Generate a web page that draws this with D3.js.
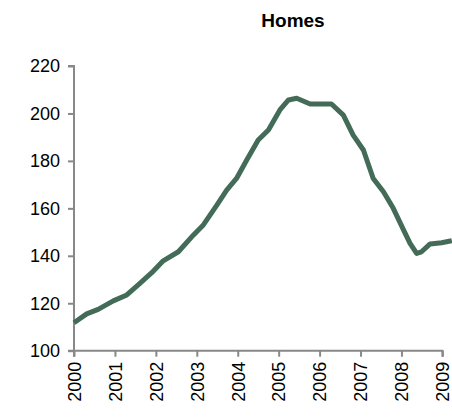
<!DOCTYPE html>
<html><head><meta charset="utf-8">
<script src="https://cdn.jsdelivr.net/npm/d3@7"></script>
<style>body{margin:0;background:#fff}svg{display:block}</style>
</head><body>
<script>
const years = [2000.0,2000.31,2000.59,2000.96,2001.29,2001.61,2001.9,2002.18,2002.55,2002.92,2003.16,2003.49,2003.73,2003.97,2004.22,2004.5,2004.75,2005.03,2005.24,2005.44,2005.77,2006.29,2006.58,2006.82,2007.07,2007.31,2007.56,2007.8,2008.05,2008.21,2008.37,2008.49,2008.7,2008.98,2009.23];
const values = [111.8,115.5,117.4,121,123.5,128.4,132.9,137.9,141.7,148.8,153,161.4,167.7,172.6,180.4,188.8,193,201.5,205.7,206.4,204,204,199.3,190.9,184.6,172.6,167,160,150.9,145.2,141,141.7,145,145.5,146.4];
const yTicks = [100,120,140,160,180,200,220];
const xTicks = [2000,2001,2002,2003,2004,2005,2006,2007,2008,2009];
const title = "Homes";

const W=452,H=419;
const svg=d3.select("body").append("svg").attr("width",W).attr("height",H);
const x=d3.scaleLinear().domain([2000,2009]).range([74,442.4]);
const y=d3.scaleLinear().domain([100,220]).range([350.7,66]);
const axisColor="#888";
const font="Arial, 'Liberation Sans', sans-serif";

svg.append("text").attr("x",293).attr("y",27).attr("text-anchor","middle")
  .attr("font-family",font).attr("font-weight","bold").attr("font-size",19).text(title);

const ya=svg.append("g").attr("transform","translate(74,0)")
  .call(d3.axisLeft(y).tickValues(yTicks).tickSize(6).tickPadding(8));
const xa=svg.append("g").attr("transform","translate(0,350.7)")
  .call(d3.axisBottom(x).tickValues(xTicks).tickFormat(d3.format("d")).tickSize(6));
[ya,xa].forEach(g=>{
  g.select(".domain").attr("stroke",axisColor).attr("stroke-width",2);
  g.selectAll(".tick line").attr("stroke",axisColor).attr("stroke-width",2);
  g.selectAll("text").attr("font-family",font).attr("font-size",18).attr("fill","#000");
});
ya.select(".domain").attr("d","M-6,66H0V350.7H-6");
xa.select(".domain").attr("d","M74,0V6V0H442.4V6");
xa.selectAll(".tick text").attr("transform","rotate(-90)").attr("text-anchor","end")
  .attr("x",-11).attr("y",0).attr("dy","0.35em");

svg.append("path").datum(years.map((d,i)=>[d,values[i]]))
  .attr("fill","none").attr("stroke","#436b57").attr("stroke-width",5).attr("stroke-linejoin","round")
  .attr("d",d3.line().x(d=>x(d[0])).y(d=>y(d[1])));
</script>
</body></html>
